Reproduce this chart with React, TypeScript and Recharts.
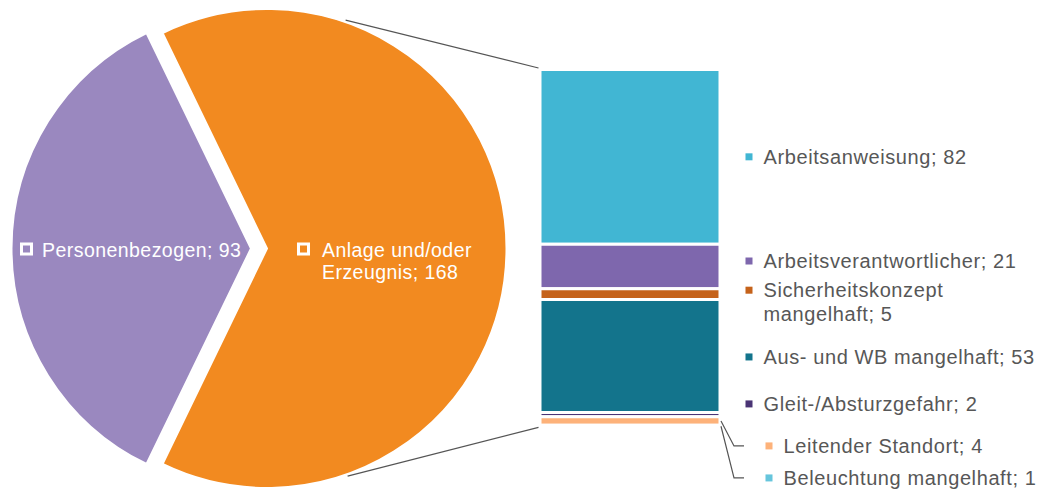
import React from "react";
import { Bar, BarChart, Cell, LabelList, Pie, PieChart, XAxis, YAxis } from "recharts";

// main split
const pieNames = ["Personenbezogen", "Anlage und/oder Erzeugnis"];
const pieValues = [93, 168];
const pieColors = ["#9a88bf", "#f28a20"];

// breakdown of "Anlage und/oder Erzeugnis"
const detailNames = [
  "Arbeitsanweisung",
  "Arbeitsverantwortlicher",
  "Sicherheitskonzept mangelhaft",
  "Aus- und WB mangelhaft",
  "Gleit-/Absturzgefahr",
  "Leitender Standort",
  "Beleuchtung mangelhaft",
];
const detailValues = [82, 21, 5, 53, 2, 4, 1];
const detailColors = ["#41b6d3", "#7e67ad", "#c5621a", "#13748c", "#4a3475", "#fdb27a", "#66c5dc"];

// label placement tweaks (px)
const labelDy = [0, -5.5, -4, 1, -10.6, 25, 51.7];
const labelShift = [0, 0, 0, 0, 0, 20, 20];
const wrapLabel = [false, false, true, false, false, false, false];

const W = 1048;
const H = 489;
const FONT = "'Liberation Sans', Arial, sans-serif";
const pieCx = 251;
const pieCy = 248.5;
const pieR = 239.5;
const explode = 16; // orange slice pulled out to the right

const total = detailValues.reduce((a, b) => a + b, 0);
const barRow: Record<string, any> = { cat: pieNames[1] };
detailNames.forEach((n, i) => (barRow[n] = detailValues[i]));
const barData = [barRow];

const pieData = pieNames.map((name, i) => ({ name, value: pieValues[i] }));
const startAngle = 180 - (pieValues[0] / (pieValues[0] + pieValues[1])) * 180;

const edgePoint = (deg: number) => {
  const r = 241.5;
  const a = (deg * Math.PI) / 180;
  return { x: pieCx + explode + r * Math.cos(a), y: pieCy - r * Math.sin(a) };
};

const splitLines = (text: string, wrap: boolean) => {
  if (!wrap) return [text];
  const k = text.lastIndexOf(" ", text.indexOf(";"));
  return [text.slice(0, k), text.slice(k + 1)];
};

const pieLabel = (which: number) => (props: any) => {
  const { index, cx, cy } = props;
  if (index !== which) return <g key={`pl-${which}-${index}`} />;
  const lines = splitLines(`${pieNames[index]}; ${pieValues[index]}`, index === 1);
  const sqX = index === 0 ? cx - 229.5 : cx + 31.5;
  const txX = index === 0 ? cx - 209 : cx + 55;
  return (
    <g key={`pl-${which}-${index}`}>
      <rect x={sqX} y={cy - 4.5} width={10} height={10} fill={pieColors[index]} stroke="#fff" strokeWidth={3} />
      <text x={txX} y={cy + 8.5} fill="#fff" fontSize={19.5} fontFamily={FONT} letterSpacing={0.45}>
        {lines.map((l, j) => (
          <tspan key={j} x={txX} dy={j === 0 ? 0 : 22}>
            {l}
          </tspan>
        ))}
      </text>
    </g>
  );
};

const renderDetailLabel = (i: number) => (props: any) => {
  const vb = props.viewBox && props.viewBox.width !== undefined ? props.viewBox : props;
  const x = Number(vb.x);
  const y = Number(vb.y);
  const w = Number(vb.width);
  const h = Number(vb.height);
  const top = Math.min(y, y + h);
  const bottom = Math.max(y, y + h);
  const right = x + w;
  const ty = (top + bottom) / 2 + labelDy[i];
  const sqX = right + 25.5 + labelShift[i];
  const txX = right + 43.5 + labelShift[i];
  const lines = splitLines(`${detailNames[i]}; ${detailValues[i]}`, wrapLabel[i]);
  const p1 = edgePoint(71);
  const p2 = edgePoint(-70.5);
  return (
    <g key={`dl-${i}`}>
      {i === 0 && <line x1={p1.x} y1={p1.y} x2={x - 1.5} y2={top - 1.5} stroke="#555" strokeWidth={1.2} />}
      {i === detailNames.length - 1 && (
        <line x1={p2.x} y1={p2.y} x2={x - 1.5} y2={bottom} stroke="#555" strokeWidth={1.2} />
      )}
      {labelShift[i] > 0 && (
        <polyline
          points={`${right + 1},${(top + bottom) / 2} ${right + 14},${ty} ${right + 24},${ty}`}
          fill="none"
          stroke="#555"
          strokeWidth={1.2}
        />
      )}
      <rect x={sqX} y={ty - 3.5} width={7} height={7} fill={detailColors[i]} />
      <text x={txX} y={ty + 7} fill="#575757" fontSize={20} fontFamily={FONT} letterSpacing={0.6}>
        {lines.map((l, j) => (
          <tspan key={j} x={txX} dy={j === 0 ? 0 : 24}>
            {l}
          </tspan>
        ))}
      </text>
    </g>
  );
};

export default function App() {
  return (
    <div style={{ position: "absolute", left: 0, top: 0, width: W, height: H, background: "#fff" }}>
      <div style={{ position: "absolute", left: 0, top: 0 }}>
        <PieChart width={530} height={H} margin={{ top: 0, right: 0, bottom: 0, left: 0 }}>
          {[0, 1].map((which) => (
            <Pie
              key={which}
              data={pieData}
              dataKey="value"
              nameKey="name"
              cx={pieCx + (which === 1 ? explode : 0)}
              cy={pieCy}
              innerRadius={0}
              outerRadius={pieR}
              startAngle={startAngle}
              endAngle={startAngle + 360}
              label={pieLabel(which)}
              labelLine={false}
              isAnimationActive={false}
            >
              {pieData.map((d, i) => (
                <Cell
                  key={d.name}
                  fill={i === which ? pieColors[i] : "none"}
                  stroke={i === which ? "#fff" : "none"}
                  strokeWidth={2}
                />
              ))}
            </Pie>
          ))}
        </PieChart>
      </div>
      <div style={{ position: "absolute", left: 0, top: 0 }}>
        <BarChart
          width={W}
          height={H}
          data={barData}
          margin={{ top: 69.5, bottom: 61.7, left: 540, right: 328.5 }}
          barCategoryGap={0}
        >
          <XAxis dataKey="cat" hide />
          <YAxis type="number" domain={[0, total]} reversed hide />
          {detailNames.map((n, i) => (
            <Bar
              key={n}
              dataKey={n}
              stackId="a"
              fill={detailColors[i]}
              stroke="#fff"
              strokeWidth={3}
              isAnimationActive={false}
            >
              <LabelList dataKey={n} content={renderDetailLabel(i)} />
            </Bar>
          ))}
        </BarChart>
      </div>
    </div>
  );
}
